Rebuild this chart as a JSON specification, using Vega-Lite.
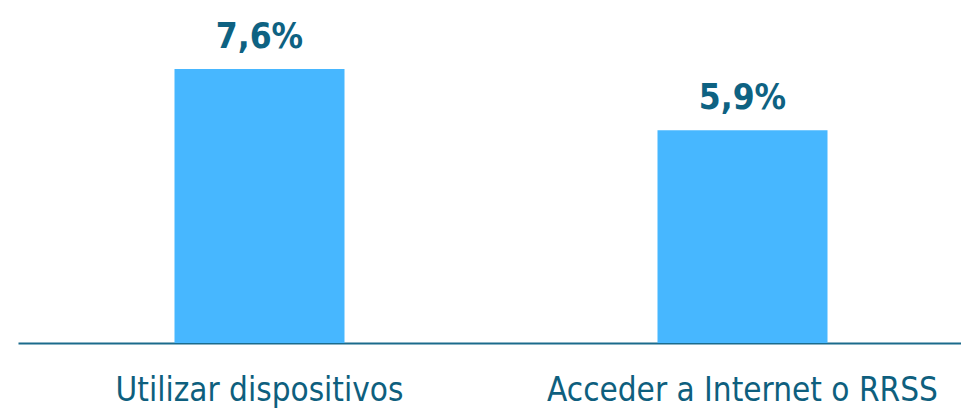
{
  "$schema": "https://vega.github.io/schema/vega-lite/v6.json",
  "width": 966,
  "height": 343,
  "autosize": {"type": "none"},
  "padding": {"left": 18, "top": 0, "right": 0, "bottom": 66},
  "background": "white",
  "config": {"view": {"stroke": null}, "font": "DejaVu Sans Condensed, Roboto, sans-serif"},
  "data": {
    "values": [
      {"categoria": "Utilizar dispositivos", "valor": 7.6, "etiqueta": "7,6%"},
      {"categoria": "Acceder a Internet o RRSS", "valor": 5.9, "etiqueta": "5,9%"}
    ]
  },
  "encoding": {
    "x": {
      "field": "categoria",
      "type": "nominal",
      "sort": null,
      "scale": {"paddingInner": 0, "paddingOuter": 0},
      "axis": {
        "title": null,
        "labelAngle": 0,
        "ticks": false,
        "domainColor": "#1b6b8c",
        "domainWidth": 2,
        "labelFont": "DejaVu Sans Condensed, Roboto, sans-serif",
        "labelFontSize": 33,
        "labelColor": "#0e5f7e",
        "labelBaseline": "alphabetic",
        "labelPadding": 57,
        "labelLimit": 0
      }
    },
    "y": {
      "field": "valor",
      "type": "quantitative",
      "scale": {"domain": [0, 9.51]},
      "axis": null
    }
  },
  "layer": [
    {"mark": {"type": "bar", "width": 170, "color": "#47b7ff"}},
    {
      "mark": {
        "type": "text",
        "baseline": "alphabetic",
        "dy": -21,
        "font": "DejaVu Sans Condensed, Roboto, sans-serif",
        "fontWeight": "bold",
        "fontSize": 35,
        "color": "#0e6282"
      },
      "encoding": {"text": {"field": "etiqueta"}}
    }
  ]
}
